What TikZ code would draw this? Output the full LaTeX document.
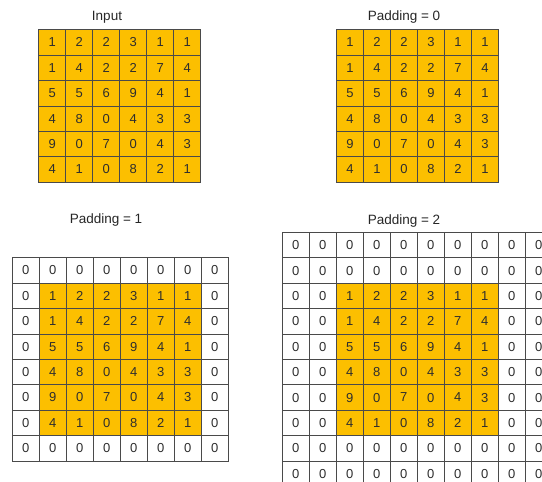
\documentclass[tikz,border=0pt]{standalone}
\usepackage{fontspec}
\setmainfont{Liberation Sans}
\definecolor{gold}{HTML}{FCBF00}
\definecolor{gridline}{HTML}{4A4A4A}
\definecolor{digit}{HTML}{2E2E2E}
\tikzset{
  cell/.style={draw=gridline, line width=0.85pt, minimum width=27pt, minimum height=25.4pt,
    inner sep=0pt, anchor=north west, text=digit, font=\fontsize{13}{13}\selectfont},
  incell/.style={cell, fill=gold},
  gridtitle/.style={text=black!85, inner sep=0pt, font=\fontsize{13.5}{13.5}\selectfont}
}
\newcommand\padgrid[4]{%
  \pgfmathtruncatemacro\NN{6+2*#4}%
  \foreach \r in {1,...,\NN}{%
    \foreach \c in {1,...,\NN}{%
      \pgfmathtruncatemacro\inside{and(and(\r>#4,\r<=6+#4),and(\c>#4,\c<=6+#4))}%
      \ifnum\inside=0
        \node[cell] (#1-\r-\c) at ({#2+(\c-1)*27},{#3+(\r-1)*25.4}) {0};
      \fi
    }%
  }%
  \foreach \row [count=\r] in {{1,2,2,3,1,1},{1,4,2,2,7,4},{5,5,6,9,4,1},{4,8,0,4,3,3},{9,0,7,0,4,3},{4,1,0,8,2,1}}{%
    \foreach \v [count=\c] in \row {%
      \pgfmathtruncatemacro\rr{\r+#4}%
      \pgfmathtruncatemacro\cc{\c+#4}%
      \node[incell] (#1-\rr-\cc) at ({#2+(\c-1+#4)*27},{#3+(\r-1+#4)*25.4}) {\v};
    }%
  }%
}
\begin{document}
\begin{tikzpicture}[x=1pt,y=-1pt]
  \useasboundingbox (0,0) rectangle (542,482);
  \clip (0,0) rectangle (542,482);
  \node[gridtitle] (tin) at (107,17) {Input};
  \node[gridtitle] (tp0) at (404,17) {Padding = 0};
  \node[gridtitle] (tp1) at (106,220.5) {Padding = 1};
  \node[gridtitle] (tp2) at (404,221) {Padding = 2};
  \padgrid{in}{38.3}{29.3}{0}
  \padgrid{pz}{336}{29.3}{0}
  \padgrid{po}{11.7}{257.3}{1}
  \padgrid{pt}{281.7}{232}{2}
\end{tikzpicture}
\end{document}
